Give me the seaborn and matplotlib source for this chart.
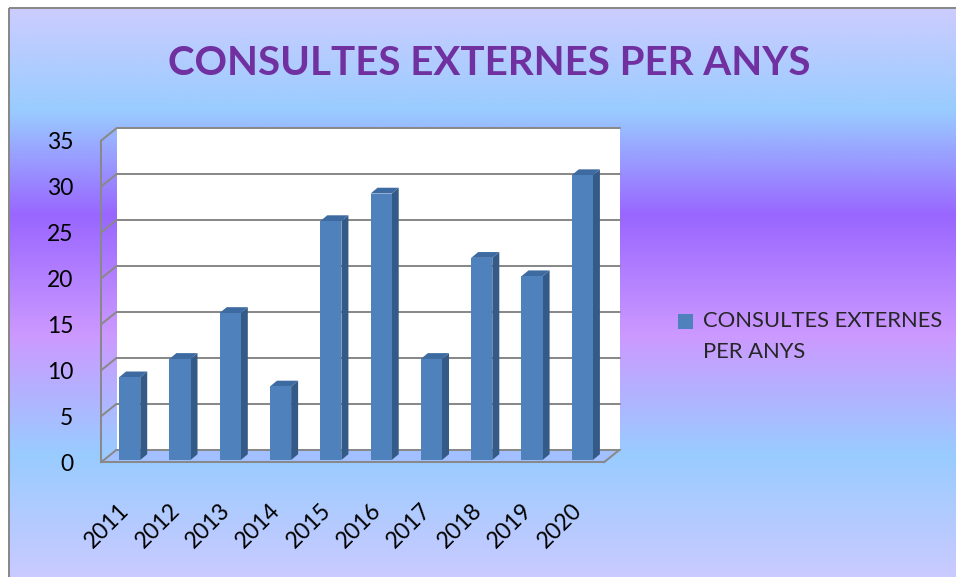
import numpy as np
import matplotlib
matplotlib.use("Agg")
import matplotlib.pyplot as plt
import seaborn as sns
from matplotlib.patches import Polygon
from matplotlib.colors import to_rgb

# ---- data ----
years = ["2011", "2012", "2013", "2014", "2015", "2016", "2017", "2018", "2019", "2020"]
values = [9, 11, 16, 8, 26, 29, 11, 22, 20, 31]
y_ticks = [0, 5, 10, 15, 20, 25, 30, 35]
title_text = "CONSULTES EXTERNES PER ANYS"
series_label = "CONSULTES EXTERNES\nPER ANYS"

W, H = 956, 577
sns.set_style("white")
plt.rcParams['font.family'] = ['Lato', 'DejaVu Sans']

GRAY = '#898989'
LW = 1.45

fig = plt.figure(figsize=(W / 100, H / 100), dpi=100)
fig.patch.set_facecolor('white')

# ---- background gradient + frame ----
bg = fig.add_axes([0, 0, 1, 1], zorder=-10)
bg.set_xlim(0, W)
bg.set_ylim(H, 0)
bg.axis('off')
stops = [(9, '#ccccff'), (110, '#99ccff'), (215, '#9966ff'), (335, '#cc99ff'),
         (455, '#99ccff'), (577, '#cacaff')]
pos = [p for p, _ in stops]
cols = np.array([to_rgb(c) for _, c in stops])
ys = np.linspace(9, H, 600)
grad = np.stack([np.interp(ys, pos, cols[:, i]) for i in range(3)], axis=1)
img = np.repeat(grad[:, None, :], 2, axis=1)
bg.imshow(img, extent=(10, W, H, 9), aspect='auto', interpolation='bilinear')
bg.plot([9, 9], [8, H], color=GRAY, lw=LW, solid_capstyle='butt')
bg.plot([9, W], [8, 8], color=GRAY, lw=LW, solid_capstyle='butt')

# ---- main axes (front plane) ----
ax_l, ax_r, ax_t, ax_b = 101, 604, 140.7, 462.3
ax = fig.add_axes([ax_l / W, 1 - ax_b / H, (ax_r - ax_l) / W, (ax_b - ax_t) / H])
ax.patch.set_visible(False)

sns.barplot(x=years, y=values, color='#4f81bd', saturation=1, width=0.42,
            linewidth=0, ax=ax, label=series_label, zorder=5)

ax.set_xlim(-0.5, 9.5)
ax.set_ylim(0, 35)
sx = (ax_r - ax_l) / 10.0          # px per category
sy = (ax_b - ax_t) / 35.0          # px per unit

# depth offsets (data units)
ddx, ddy = 15.5 / sx, 12.5 / sy            # full wall depth
bx, by = 3.5 / sx, 2.3 / sy                # bar front-face offset
bdx, bdy = 7.0 / sx, 5.8 / sy              # bar depth

# back wall
ax.add_patch(Polygon([(-0.5 + ddx, ddy), (9.5 + ddx, ddy), (9.5 + ddx, 35 + ddy), (-0.5 + ddx, 35 + ddy)],
                     closed=True, facecolor='white', edgecolor='none', clip_on=False, zorder=0))
# floor
ax.add_patch(Polygon([(-0.5, 0), (9.5, 0), (9.5 + ddx, ddy), (-0.5 + ddx, ddy)],
                     closed=True, facecolor='#a2c0ff', edgecolor='none', clip_on=False, zorder=0.5))
for t in y_ticks:
    ax.plot([-0.5 + ddx, 9.5 + ddx], [t + ddy, t + ddy], color=GRAY, lw=LW, clip_on=False, zorder=1)
    ax.plot([-0.5, -0.5 + ddx], [t, t + ddy], color=GRAY, lw=LW, clip_on=False, zorder=1)
ax.plot([9.5, 9.5 + ddx], [0, ddy], color=GRAY, lw=LW, clip_on=False, zorder=1)

# bars: shift front face and add 3D side/top faces
for p in list(ax.patches):
    if p.get_facecolor()[:3] != to_rgb('#4f81bd'):
        continue
    x0 = p.get_x() + bx
    w = p.get_width()
    h = p.get_height()
    p.set_x(x0)
    p.set_y(by)
    x1 = x0 + w
    y0, y1 = by, by + h
    ax.add_patch(Polygon([(x1, y0), (x1 + bdx, y0 + bdy), (x1 + bdx, y1 + bdy), (x1, y1)],
                         closed=True, facecolor='#345b88', edgecolor='none', clip_on=False, zorder=4))
    ax.add_patch(Polygon([(x0, y1), (x1, y1), (x1 + bdx, y1 + bdy), (x0 + bdx, y1 + bdy)],
                         closed=True, facecolor='#3d6aa0', edgecolor='none', clip_on=False, zorder=4))

# spines
for s in ['top', 'right']:
    ax.spines[s].set_visible(False)
for s in ['left', 'bottom']:
    ax.spines[s].set_color(GRAY)
    ax.spines[s].set_linewidth(LW)
    ax.spines[s].set_zorder(6)

ax.set_yticks(y_ticks)
ax.tick_params(axis='y', length=6.5, width=LW, color=GRAY, pad=13.5, labelsize=16.5, labelcolor='black')
ax.set_xticks(np.arange(-0.5, 10, 1), labels=[''] * 11)
ax.set_xticks(range(10), labels=years, minor=True)
ax.tick_params(axis='x', which='major', length=8.5, width=LW, color=GRAY)
ax.tick_params(axis='x', which='minor', length=0, pad=32, labelsize=16.5, labelcolor='black')
for lab in ax.get_xticklabels(minor=True):
    lab.set_rotation(45)
    lab.set_ha('right')
    lab.set_va('center')
    lab.set_rotation_mode('anchor')
ax.set_xlabel('')
ax.set_ylabel('')
ax.grid(False)

# legend
leg = ax.legend(loc='upper left', bbox_to_anchor=(678 / W, 1 - 311 / H), bbox_transform=fig.transFigure,
                frameon=False, fontsize=15.8, handlelength=0.68, handleheight=0.68,
                handletextpad=0.45, borderpad=0, borderaxespad=0)
for t in leg.get_texts():
    t.set_linespacing(1.68)
hnd = leg.legend_handles[0]
hnd.set_y(hnd.get_y() + 11.0)

# title
fig.text(489.5 / W, 1 - 75 / H, title_text, ha='center', va='baseline', fontsize=29,
         fontweight='bold', color='#7030a0')

fig.savefig('out.png', dpi=100)
